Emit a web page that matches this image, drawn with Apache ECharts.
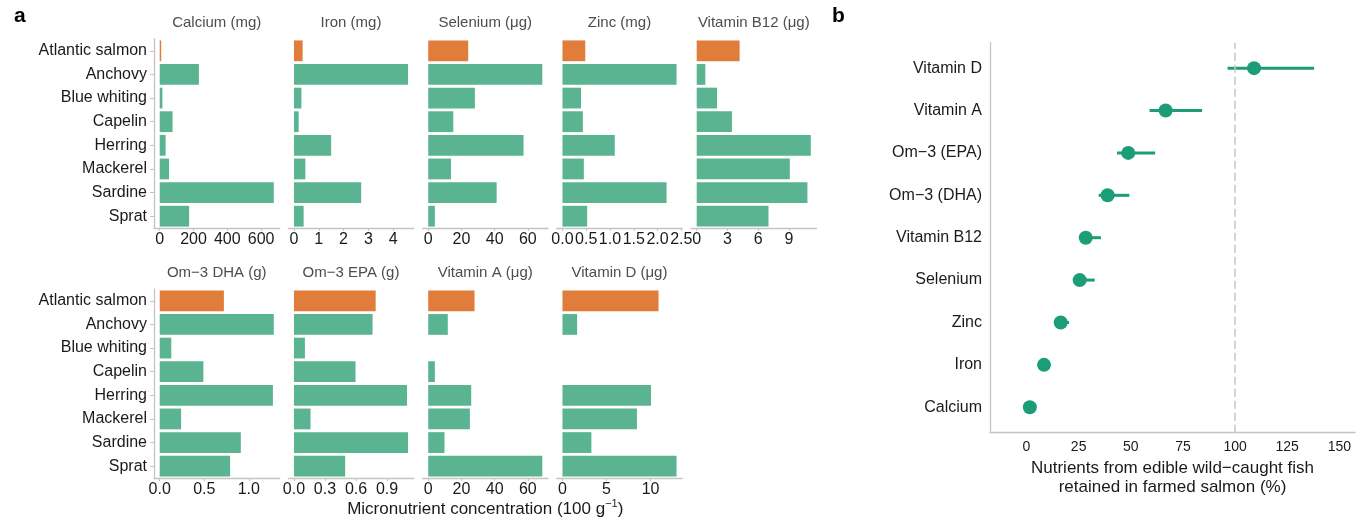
<!DOCTYPE html>
<html>
<head>
<meta charset="utf-8">
<script src="https://cdn.jsdelivr.net/npm/echarts@6/dist/echarts.min.js"></script>
<style>
html,body{margin:0;padding:0;background:#fff;}
#chart{width:1367px;height:525px;}
</style>
</head>
<body>
<div id="chart"></div>
<script>
// ---------- Data (panel a) ----------
const species = ['Atlantic salmon','Anchovy','Blue whiting','Capelin','Herring','Mackerel','Sardine','Sprat'];
const calcium   = [9, 232, 16, 76, 35, 55, 675, 174];
const iron      = [0.35, 4.6, 0.3, 0.19, 1.5, 0.46, 2.71, 0.39];
const selenium  = [24.1, 68.7, 28.1, 15.1, 57.4, 13.7, 41.2, 4.0];
const zinc      = [0.48, 2.40, 0.39, 0.43, 1.10, 0.45, 2.19, 0.52];
const vitB12    = [4.19, 0.84, 1.98, 3.44, 11.14, 9.09, 10.81, 7.01];
const omega3DHA = [0.72, 1.28, 0.13, 0.49, 1.27, 0.24, 0.91, 0.79];
const omega3EPA = [0.79, 0.76, 0.106, 0.595, 1.093, 0.16, 1.103, 0.495];
const vitA      = [27.9, 11.8, null, 4.0, 25.9, 25.1, 9.8, 68.7];
const vitD      = [10.9, 1.66, null, null, 10.04, 8.45, 3.28, 12.94];

const panelTitles = ['Calcium (mg)','Iron (mg)','Selenium (\u03bcg)','Zinc (mg)','Vitamin B12 (\u03bcg)',
                     'Om\u22123 DHA (g)','Om\u22123 EPA (g)','Vitamin A (\u03bcg)','Vitamin D (\u03bcg)'];
const calciumTicks  = [0, 200, 400, 600];
const ironTicks     = [0, 1, 2, 3, 4];
const seleniumTicks = [0, 20, 40, 60];
const zincTicks     = [0, 0.5, 1, 1.5, 2, 2.5];
const vitB12Ticks   = [0, 3, 6, 9];
const dhaTicks      = [0, 0.5, 1];
const epaTicks      = [0, 0.3, 0.6, 0.9];
const vitATicks     = [0, 20, 40, 60];
const vitDTicks     = [0, 5, 10];
const tickDecimals  = [0, 0, 0, 1, 0, 1, 1, 0, 0];

// ---------- Data (panel b) ----------
const retainedNutrients = ['Calcium','Iron','Zinc','Selenium','Vitamin B12','Om\u22123 (DHA)','Om\u22123 (EPA)','Vitamin A','Vitamin D'];
const retainedMean = [1.6, 8.4, 16.4, 25.5, 28.4, 38.9, 48.8, 66.7, 109.1];
const retainedLow  = [0.8, 7.2, 14.0, 24.0, 25.5, 34.6, 43.4, 59.0, 96.4];
const retainedHigh = [2.4, 9.6, 20.4, 32.7, 35.7, 49.3, 61.7, 84.2, 137.9];
const retainedTicks = [0, 25, 50, 75, 100, 125, 150];

// ---------- Build ----------
const FONT = 'Liberation Sans, Arial, Helvetica, sans-serif';
const GREEN = '#5ab391';
const ORANGE = '#e07d3a';
const DARKGREEN = '#1b9e77';
const AXIS = '#c4c4c4';
const TEXT = '#1a1a1a';

const values = [calcium, iron, selenium, zinc, vitB12, omega3DHA, omega3EPA, vitA, vitD];
const ticks = [calciumTicks, ironTicks, seleniumTicks, zincTicks, vitB12Ticks, dhaTicks, epaTicks, vitATicks, vitDTicks];

const PW = 125.5, PH = 189, STEP = 134.25, LEFT0 = 154;
const rowTop = [39, 289];
const titleY = [23, 273];

const grids = [], xAxes = [], yAxes = [], series = [], graphics = [];

values.forEach((vals, i) => {
  const row = i < 5 ? 0 : 1;
  const col = row === 0 ? i : i - 5;
  const left = LEFT0 + col * STEP;
  const top = rowTop[row];
  const mx = Math.max(...vals.filter(v => v != null));
  grids.push({left: left, top: top, width: PW, height: PH});
  const xa = {
    type: 'value', gridIndex: i,
    min: -0.05 * mx, max: 1.05 * mx,
    axisLine: {show: true, onZero: false, lineStyle: {color: AXIS, width: 1.3}},
    axisTick: {show: true, length: 3, customValues: ticks[i], lineStyle: {color: AXIS}},
    axisLabel: {customValues: ticks[i], margin: 4, fontSize: 16, color: TEXT, fontFamily: FONT,
                formatter: v => Number(v).toFixed(tickDecimals[i])},
    splitLine: {show: false}
  };
  if (i === 7) {
    xa.name = '{a|Micronutrient concentration (100 g}{s|\u22121}{a|)}';
    xa.nameLocation = 'middle';
    xa.nameGap = 19;
    xa.nameTextStyle = {rich: {
      a: {fontSize: 17, color: TEXT, fontFamily: FONT, lineHeight: 20},
      s: {fontSize: 11, color: TEXT, fontFamily: FONT, padding: [0, 0, 9, 0]}
    }};
  }
  xAxes.push(xa);
  yAxes.push({
    type: 'category', gridIndex: i, data: species, inverse: true,
    axisLine: {show: col === 0, onZero: false, lineStyle: {color: AXIS, width: 1.3}},
    axisTick: {show: col === 0, length: 4, alignWithLabel: true, lineStyle: {color: AXIS}},
    axisLabel: {show: col === 0, margin: 7, fontSize: 16, color: TEXT, fontFamily: FONT},
    splitLine: {show: false}
  });
  series.push({
    type: 'bar', xAxisIndex: i, yAxisIndex: i, barCategoryGap: '12%',
    data: vals.map((v, k) => ({value: v == null ? '-' : v, itemStyle: {color: k === 0 ? ORANGE : GREEN}})),
    silent: true
  });
  graphics.push({
    type: 'text', x: left + PW / 2, y: titleY[row],
    style: {text: panelTitles[i], fill: '#4d4d4d', fontSize: 15, fontFamily: FONT,
            align: 'center', verticalAlign: 'middle', textAlign: 'center', textVerticalAlign: 'middle'}
  });
});

// Panel b
const bi = values.length;
grids.push({left: 990, top: 42.7, width: 365, height: 390});
xAxes.push({
  type: 'value', gridIndex: bi, min: -17.5, max: 157.5,
  axisLine: {show: true, onZero: false, lineStyle: {color: AXIS, width: 1.3}},
  axisTick: {show: false},
  axisLabel: {customValues: retainedTicks, margin: 7, fontSize: 14, color: TEXT, fontFamily: FONT},
  splitLine: {show: false},
  name: 'Nutrients from edible wild\u2212caught fish\nretained in farmed salmon (%)',
  nameLocation: 'middle', nameGap: 23,
  nameTextStyle: {fontSize: 17, lineHeight: 19, color: TEXT, fontFamily: FONT}
});
yAxes.push({
  type: 'value', gridIndex: bi, min: -0.6, max: 8.6,
  axisLine: {show: true, onZero: false, lineStyle: {color: AXIS, width: 1.3}},
  axisTick: {show: false},
  axisLabel: {customValues: retainedNutrients.map((n, k) => k), margin: 8, fontSize: 16, color: TEXT, fontFamily: FONT,
              formatter: v => retainedNutrients[Math.round(v)]},
  splitLine: {show: false}
});
series.push({
  type: 'line', xAxisIndex: bi, yAxisIndex: bi, data: [], z: 1, silent: true,
  markLine: {silent: true, symbol: ['none', 'none'], label: {show: false},
             lineStyle: {type: [8, 4], color: '#c8c8c8', width: 1.5},
             data: [{xAxis: 100}]}
});
series.push({
  type: 'custom', xAxisIndex: bi, yAxisIndex: bi, z: 3, silent: true,
  data: retainedNutrients.map((n, k) => [retainedLow[k], retainedHigh[k], k]),
  encode: {x: [0, 1], y: 2},
  renderItem: (params, api) => {
    const p1 = api.coord([api.value(0), api.value(2)]);
    const p2 = api.coord([api.value(1), api.value(2)]);
    return {type: 'line', shape: {x1: p1[0], y1: p1[1], x2: p2[0], y2: p2[1]},
            style: {stroke: DARKGREEN, lineWidth: 3}};
  }
});
series.push({
  type: 'scatter', xAxisIndex: bi, yAxisIndex: bi, z: 4, silent: true,
  symbolSize: 14, itemStyle: {color: DARKGREEN, opacity: 1},
  data: retainedMean.map((v, k) => [v, k])
});

graphics.push({type: 'text', x: 14, y: 6, style: {text: 'a', fill: '#000', fontSize: 21, fontWeight: 'bold', fontFamily: FONT}});
graphics.push({type: 'text', x: 832, y: 6, style: {text: 'b', fill: '#000', fontSize: 21, fontWeight: 'bold', fontFamily: FONT}});

const chart = echarts.init(document.getElementById('chart'), null, {renderer: 'canvas'});
chart.setOption({
  animation: false,
  backgroundColor: '#fff',
  textStyle: {fontFamily: FONT},
  grid: grids, xAxis: xAxes, yAxis: yAxes, series: series, graphic: graphics
});
</script>
</body>
</html>
